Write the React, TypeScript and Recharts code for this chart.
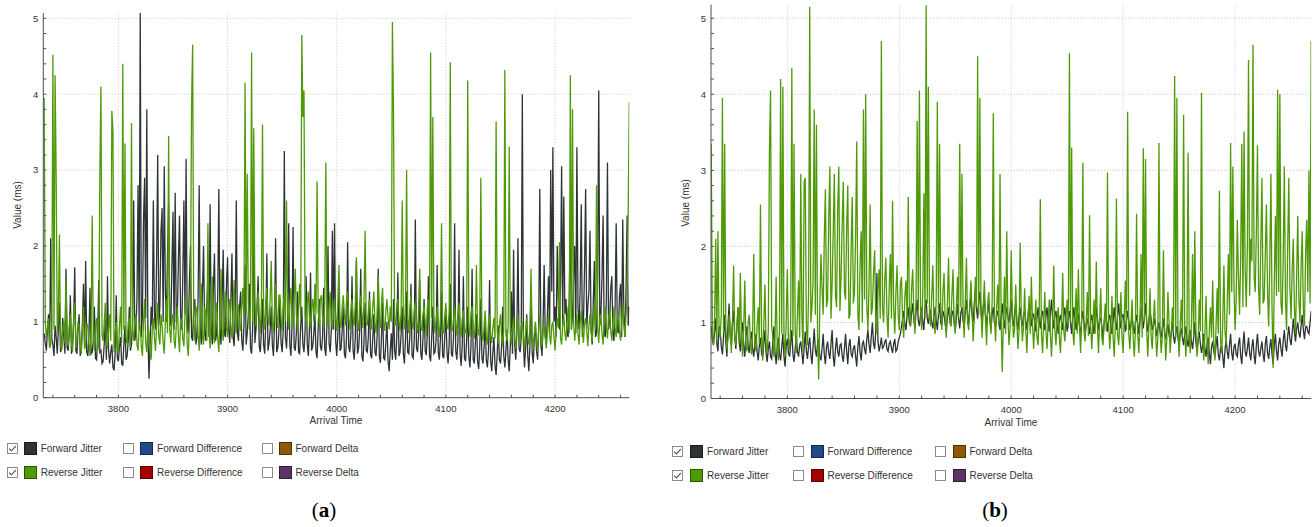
import React from "react";
import { LineChart, Line, XAxis, YAxis, ReferenceLine } from "recharts";

// jitter samples, one per time unit starting at 3732 (each row = 20 units)
const T0 = 3732;
const STEP = 1;

const xTicks = [
  3740, 3760, 3780, 3800, 3820, 3840, 3860, 3880, 3900, 3920, 3940, 3960, 3980, 4000,
  4020, 4040, 4060, 4080, 4100, 4120, 4140, 4160, 4180, 4200, 4220, 4240, 4260,
];
const xGrid = [3800, 3900, 4000, 4100, 4200];
const yTicks = [
  0, 0.2, 0.4, 0.6, 0.8, 1, 1.2, 1.4, 1.6, 1.8, 2, 2.2, 2.4, 2.6, 2.8, 3, 3.2, 3.4, 3.6,
  3.8, 4, 4.2, 4.4, 4.6, 4.8, 5,
];
const yGrid = [1, 2, 3, 4, 5];

// (a) forward jitter, ms
const fwdA = [
  0.85, 0.72, 0.62, 0.90, 1.10, 0.66, 2.10, 0.78, 0.70, 0.55, 0.95, 0.80, 0.58, 0.92, 1.25, 0.60, 0.66, 1.05, 0.80, 0.58,
  1.70, 0.66, 0.62, 0.85, 1.35, 0.58, 0.70, 1.00, 1.72, 0.62, 0.58, 0.88, 1.10, 0.55, 0.64, 0.95, 1.50, 0.70, 1.80, 0.60,
  0.55, 0.80, 1.45, 0.58, 0.60, 0.75, 1.20, 0.52, 0.50, 0.82, 1.55, 0.60, 0.62, 0.45, 0.48, 0.70, 1.05, 0.50, 1.60, 0.62,
  0.45, 0.60, 0.70, 0.40, 0.36, 0.58, 1.35, 0.52, 0.48, 0.68, 0.80, 0.45, 0.42, 0.70, 0.95, 0.50, 0.55, 0.75, 1.20, 0.62,
  0.70, 1.00, 2.60, 0.75, 0.85, 1.30, 2.80, 0.90, 5.07, 0.80, 1.10, 2.35, 2.90, 1.05, 3.80, 0.85, 0.25, 0.70, 1.20, 0.95,
  2.60, 1.10, 0.90, 1.80, 3.20, 0.95, 1.20, 2.20, 2.50, 1.00, 3.05, 1.40, 1.00, 1.90, 2.55, 1.05, 0.95, 1.70, 2.45, 0.90,
  2.70, 1.00, 1.10, 1.85, 2.40, 1.05, 0.90, 1.60, 2.60, 1.10, 3.15, 0.95, 0.85, 1.50, 2.00, 0.80, 0.75, 1.20, 1.30, 0.70,
  0.80, 1.30, 2.80, 0.90, 0.70, 1.40, 2.00, 0.85, 0.75, 1.20, 1.60, 0.80, 2.55, 0.95, 0.70, 1.45, 1.90, 0.75, 0.85, 1.35,
  2.75, 0.90, 0.70, 1.30, 1.95, 0.85, 0.80, 1.50, 1.85, 0.90, 0.72, 1.25, 1.90, 0.80, 0.68, 1.10, 2.60, 0.85, 0.75, 1.20,
  1.40, 0.75, 0.62, 0.95, 1.75, 0.70, 0.85, 1.10, 1.50, 0.65, 0.58, 0.92, 2.65, 0.72, 0.90, 1.20, 1.60, 0.68, 0.60, 0.88,
  1.30, 0.70, 0.58, 0.98, 1.90, 0.62, 0.72, 0.88, 1.20, 0.70, 0.55, 0.95, 2.10, 0.60, 0.66, 0.85, 1.30, 0.72, 0.60, 0.90,
  3.25, 0.80, 0.65, 1.00, 2.30, 0.70, 0.55, 0.92, 2.25, 0.66, 0.62, 0.85, 1.40, 0.60, 0.58, 0.95, 1.20, 0.70, 0.60, 0.88,
  1.60, 0.70, 0.55, 0.90, 1.65, 0.62, 0.68, 0.85, 1.10, 0.60, 0.52, 0.92, 1.30, 0.68, 0.62, 0.80, 1.45, 0.65, 0.55, 0.95,
  2.00, 0.72, 0.60, 0.88, 2.20, 0.90, 2.30, 0.75, 0.55, 0.82, 1.50, 0.62, 0.65, 0.90, 1.20, 0.58, 0.52, 0.80, 2.05, 0.66,
  0.60, 0.85, 1.60, 0.62, 0.50, 0.80, 1.80, 0.58, 0.65, 0.88, 1.70, 0.55, 0.48, 0.75, 1.25, 0.62, 0.60, 0.82, 1.40, 0.56,
  0.52, 0.78, 1.10, 0.60, 0.55, 0.82, 1.70, 0.55, 0.46, 0.80, 1.25, 0.52, 0.50, 0.72, 1.00, 0.48, 0.35, 0.62, 0.85, 0.50,
  1.30, 0.62, 0.50, 0.80, 1.65, 0.55, 0.60, 0.85, 1.20, 0.58, 0.45, 0.78, 1.40, 0.60, 0.58, 0.82, 1.50, 0.55, 0.52, 0.76,
  2.35, 0.66, 0.60, 0.82, 1.55, 0.58, 0.50, 0.78, 1.30, 0.62, 0.56, 0.85, 1.60, 0.55, 0.48, 0.80, 1.20, 0.58, 0.60, 0.75,
  1.75, 0.60, 0.50, 0.78, 1.40, 0.55, 0.52, 0.82, 1.10, 0.60, 0.45, 0.72, 1.50, 0.58, 0.54, 0.80, 2.30, 0.62, 0.50, 0.74,
  1.95, 0.58, 0.42, 0.70, 1.60, 0.52, 0.48, 0.75, 1.20, 0.55, 0.40, 0.68, 1.70, 0.50, 0.45, 0.72, 1.10, 0.48, 0.38, 0.65,
  1.30, 0.52, 0.45, 0.68, 1.00, 0.50, 0.40, 0.62, 1.55, 0.48, 0.35, 0.60, 0.80, 0.42, 0.30, 0.58, 0.95, 0.50, 0.45, 0.66,
  1.20, 0.55, 0.40, 0.62, 0.90, 0.50, 0.35, 0.68, 1.40, 0.58, 1.95, 0.70, 0.50, 0.85, 2.10, 0.65, 0.60, 0.80, 4.00, 0.72,
  0.40, 0.65, 1.10, 0.55, 0.35, 0.70, 1.45, 0.60, 0.45, 0.78, 0.95, 0.62, 0.50, 0.90, 2.75, 0.70, 0.55, 0.95, 1.75, 0.80,
  0.70, 1.10, 1.60, 0.85, 3.00, 1.40, 3.30, 1.00, 1.20, 0.80, 2.00, 1.25, 0.90, 1.50, 3.05, 0.95, 2.65, 1.10, 1.30, 0.85,
  0.80, 1.30, 2.40, 0.90, 1.10, 1.60, 2.00, 0.85, 3.30, 1.20, 0.90, 1.45, 2.55, 0.80, 1.00, 1.70, 2.75, 0.90, 1.20, 1.40,
  2.20, 0.90, 0.70, 1.25, 1.80, 0.80, 0.85, 1.50, 4.05, 0.95, 1.10, 1.60, 2.40, 0.85, 0.80, 1.30, 3.10, 0.90, 1.00, 1.45,
  1.60, 0.85, 0.75, 1.20, 2.30, 0.90, 0.85, 1.35, 1.50, 0.80, 2.35, 1.10, 0.80, 1.40, 2.40, 0.95, 1.20,
];

// (a) reverse jitter, ms
const revA = [
  3.95, 1.00, 0.80, 0.92, 1.05, 0.66, 0.70, 0.98, 4.52, 0.90, 4.25, 2.90, 0.85, 1.10, 2.15, 0.70, 0.62, 0.90, 1.00, 0.72,
  1.55, 0.82, 0.68, 0.95, 1.10, 0.72, 0.60, 1.05, 1.25, 0.66, 0.75, 1.00, 0.95, 0.70, 0.58, 0.92, 1.20, 0.64, 0.70, 0.98,
  0.95, 0.70, 0.55, 0.88, 2.40, 0.80, 0.62, 0.96, 1.05, 0.62, 0.70, 2.95, 4.10, 0.82, 0.75, 0.98, 1.25, 0.72, 0.65, 0.90,
  1.10, 0.75, 3.78, 3.50, 0.60, 0.85, 1.00, 0.68, 0.58, 0.95, 1.20, 0.72, 4.40, 0.90, 3.35, 0.80, 0.70, 0.98, 1.05, 0.66,
  3.62, 0.88, 0.75, 1.02, 1.10, 0.70, 0.62, 0.92, 0.95, 0.68, 0.55, 1.00, 1.30, 0.72, 0.60, 0.95, 0.85, 0.62, 0.50, 0.90,
  1.05, 0.78, 0.62, 0.98, 1.25, 0.80, 0.70, 1.10, 0.95, 0.72, 0.58, 1.00, 1.30, 0.85, 3.45, 0.90, 0.72, 1.05, 1.10, 0.75,
  0.65, 0.95, 1.20, 0.80, 0.60, 1.05, 1.00, 0.78, 0.68, 1.10, 1.35, 0.70, 0.55, 0.98, 1.15, 3.85, 4.65, 1.00, 0.75, 1.15,
  1.20, 0.85, 0.62, 1.05, 1.50, 0.80, 0.70, 1.20, 1.10, 0.75, 2.30, 0.90, 0.65, 1.10, 1.60, 0.82, 0.72, 1.15, 1.25, 0.78,
  0.60, 1.00, 1.70, 0.90, 0.75, 1.15, 1.40, 0.92, 0.80, 1.20, 1.30, 0.95, 0.78, 1.10, 1.55, 1.00, 0.85, 1.25, 1.20, 0.95,
  0.88, 1.20, 1.45, 1.05, 4.15, 1.10, 2.95, 1.25, 0.90, 1.15, 4.55, 1.00, 3.55, 1.30, 0.95, 1.20, 1.40, 1.05, 0.85, 1.25,
  3.60, 1.10, 0.90, 1.25, 1.45, 1.05, 0.95, 1.30, 1.80, 1.00, 0.85, 1.20, 1.50, 1.10, 0.92, 1.35, 1.35, 1.05, 0.88, 1.20,
  1.40, 1.00, 2.60, 1.15, 0.90, 1.25, 1.45, 1.05, 0.95, 1.30, 1.70, 1.10, 0.88, 1.20, 1.50, 1.05, 4.78, 3.70, 4.05, 1.10,
  0.95, 1.25, 1.40, 1.05, 0.90, 1.20, 1.30, 1.00, 1.50, 1.10, 2.85, 1.15, 0.95, 1.30, 1.35, 1.05, 0.90, 1.25, 3.10, 1.10,
  0.95, 1.20, 1.40, 1.00, 0.90, 1.15, 1.30, 1.05, 0.88, 1.25, 1.75, 1.00, 0.92, 1.20, 1.35, 1.10, 0.95, 1.30, 1.40, 1.05,
  0.90, 1.15, 1.30, 1.05, 0.95, 1.25, 1.85, 1.00, 0.88, 1.20, 1.35, 1.10, 0.92, 1.30, 2.20, 1.00, 0.95, 1.15, 1.30, 1.05,
  0.90, 1.20, 1.40, 1.00, 0.85, 1.10, 1.60, 1.05, 0.92, 1.25, 1.45, 1.00, 0.88, 1.15, 1.30, 1.05, 0.90, 1.20, 1.00, 4.95,
  3.75, 1.05, 0.95, 1.20, 1.30, 1.00, 0.88, 1.15, 2.60, 1.10, 0.90, 1.25, 3.00, 1.05, 0.85, 1.20, 1.35, 1.00, 0.90, 1.15,
  1.25, 1.00, 0.85, 1.15, 1.70, 0.95, 0.88, 1.10, 1.20, 1.00, 0.80, 1.20, 1.30, 0.95, 4.55, 1.05, 3.70, 1.10, 0.85, 1.00,
  1.20, 0.95, 0.80, 1.05, 2.30, 0.90, 0.85, 1.10, 1.25, 0.95, 0.90, 1.15, 4.42, 0.92, 0.88, 1.05, 1.20, 0.98, 0.82, 1.10,
  1.25, 0.92, 0.80, 1.05, 1.15, 0.90, 0.85, 1.00, 4.18, 0.95, 0.80, 1.10, 1.20, 0.88, 0.78, 1.02, 1.75, 0.90, 0.82, 1.05,
  2.90, 0.85, 0.75, 0.95, 1.15, 0.80, 0.70, 0.98, 1.10, 0.82, 0.72, 0.92, 1.05, 0.78, 3.64, 0.88, 0.70, 0.95, 1.10, 0.80,
  0.68, 0.90, 4.32, 0.82, 0.75, 0.95, 3.31, 0.85, 0.70, 0.92, 1.05, 0.78, 0.65, 0.90, 1.10, 0.80, 0.72, 0.95, 1.00, 0.82,
  0.62, 0.88, 1.05, 0.78, 0.70, 0.92, 1.70, 0.80, 0.65, 0.85, 1.00, 0.75, 0.60, 0.90, 1.10, 0.82, 0.68, 0.88, 0.95, 0.80,
  0.65, 0.90, 1.10, 0.82, 0.70, 0.95, 1.00, 0.80, 0.62, 0.88, 1.05, 0.92, 2.05, 0.78, 0.70, 0.95, 1.10, 0.85, 0.75, 0.98,
  1.20, 0.85, 4.25, 0.90, 3.80, 1.00, 0.75, 0.95, 1.10, 0.85, 0.70, 1.00, 1.15, 0.90, 0.72, 0.98, 1.05, 0.88, 0.68, 0.95,
  1.10, 0.88, 0.75, 1.00, 1.20, 0.90, 2.80, 0.95, 0.72, 1.05, 1.10, 0.85, 0.70, 1.00, 1.20, 0.92, 0.78, 1.05, 1.15, 0.88,
  0.75, 1.00, 1.20, 0.92, 0.80, 1.05, 1.10, 0.88, 0.75, 1.00, 1.25, 0.95, 0.80, 1.10, 1.30, 2.45, 3.90,
];

// (b) forward jitter, ms
const fwdB = [
  0.95, 0.78, 0.70, 0.88, 1.05, 0.72, 0.62, 0.95, 0.90, 0.68, 0.58, 0.82, 1.10, 0.75, 0.55, 0.98, 1.25, 0.80, 0.70, 1.00,
  1.15, 0.80, 0.65, 0.95, 1.20, 0.75, 0.62, 0.90, 1.00, 0.70, 0.55, 0.82, 0.95, 0.68, 0.60, 0.78, 0.88, 0.65, 0.55, 0.72,
  0.85, 0.62, 0.50, 0.70, 0.80, 0.58, 0.55, 0.72, 0.90, 0.60, 0.48, 0.66, 0.75, 0.55, 0.52, 0.74, 0.95, 0.60, 0.45, 0.68,
  0.80, 0.58, 0.50, 0.68, 0.85, 0.55, 0.42, 0.70, 0.78, 0.60, 0.55, 0.72, 0.90, 0.58, 0.48, 0.66, 0.82, 0.62, 0.55, 0.70,
  0.75, 0.60, 0.45, 0.66, 0.88, 0.62, 0.52, 0.70, 0.80, 0.58, 0.45, 0.68, 0.92, 0.64, 0.55, 0.72, 0.78, 0.56, 0.50, 0.65,
  0.85, 0.58, 0.45, 0.68, 0.75, 0.60, 0.52, 0.72, 0.90, 0.55, 0.42, 0.65, 0.80, 0.62, 0.55, 0.70, 0.72, 0.56, 0.48, 0.66,
  0.85, 0.62, 0.45, 0.70, 0.78, 0.58, 0.55, 0.66, 0.70, 0.55, 0.42, 0.68, 0.82, 0.60, 0.50, 0.72, 0.75, 0.65, 0.58, 0.78,
  0.90, 0.70, 0.60, 0.82, 1.00, 0.72, 0.65, 0.88, 1.65, 0.75, 0.62, 0.70, 0.80, 0.66, 0.68, 0.74, 0.78, 0.65, 0.62, 0.72,
  0.75, 0.66, 0.60, 0.72, 0.78, 0.62, 0.65, 0.74, 0.80, 0.85, 0.95, 1.05, 1.15, 0.98, 0.90, 1.10, 1.20, 1.00, 0.95, 1.12,
  1.25, 1.05, 0.92, 1.15, 1.30, 1.02, 0.95, 1.10, 1.20, 1.00, 0.90, 1.18, 1.30, 1.05, 0.98, 1.12, 1.15, 1.00, 0.92, 1.08,
  1.20, 1.02, 0.90, 1.10, 1.25, 1.00, 0.95, 1.15, 1.10, 0.98, 0.88, 1.08, 1.20, 1.04, 0.95, 1.12, 1.15, 1.00, 0.90, 1.06,
  1.25, 1.05, 0.92, 1.12, 1.20, 1.02, 0.95, 1.15, 1.30, 1.08, 0.98, 1.20, 1.35, 1.10, 1.00, 1.25, 1.45, 1.18, 1.05, 1.30,
  1.40, 1.15, 1.00, 1.22, 1.30, 1.10, 0.95, 1.15, 1.25, 1.05, 0.92, 1.12, 1.20, 1.00, 0.95, 1.10, 1.15, 1.02, 0.90, 1.08,
  1.25, 1.05, 0.92, 1.10, 1.20, 1.08, 1.00, 1.15, 1.30, 1.05, 0.95, 1.12, 1.25, 1.00, 0.90, 1.08, 1.20, 1.04, 0.95, 1.10,
  1.15, 1.02, 0.90, 1.08, 1.25, 1.05, 0.95, 1.12, 1.10, 1.00, 0.88, 1.06, 1.20, 1.04, 0.92, 1.10, 1.15, 1.00, 0.90, 1.08,
  1.20, 1.00, 0.88, 1.12, 1.30, 1.05, 0.92, 1.10, 1.15, 0.98, 0.85, 1.02, 1.10, 1.00, 0.90, 1.08, 1.20, 1.02, 0.88, 1.05,
  1.15, 1.00, 0.85, 1.05, 1.20, 1.02, 0.90, 1.08, 1.10, 0.95, 0.82, 1.04, 1.15, 1.00, 0.88, 0.98, 1.05, 0.96, 0.85, 1.02,
  1.10, 0.98, 0.85, 1.04, 1.20, 1.00, 0.90, 1.06, 1.05, 0.94, 0.80, 1.00, 1.15, 1.02, 0.88, 1.05, 1.10, 0.96, 0.85, 1.02,
  1.20, 1.02, 0.90, 1.08, 1.25, 1.04, 0.92, 1.10, 1.10, 1.00, 0.88, 1.04, 1.15, 1.02, 0.90, 0.98, 1.05, 0.95, 0.85, 1.00,
  1.10, 0.98, 0.85, 1.04, 1.20, 1.05, 0.92, 1.08, 1.25, 1.02, 0.88, 1.00, 1.15, 1.04, 0.90, 0.96, 1.05, 0.94, 0.82, 0.92,
  1.00, 0.88, 0.80, 0.92, 1.05, 0.86, 0.78, 0.90, 0.98, 0.84, 0.75, 0.88, 1.00, 0.82, 0.72, 0.86, 0.95, 0.80, 0.70, 0.84,
  0.92, 0.80, 0.70, 0.84, 0.95, 0.78, 0.68, 0.82, 0.90, 0.75, 0.65, 0.80, 1.00, 0.74, 0.62, 0.78, 0.88, 0.72, 0.60, 0.70,
  0.85, 0.66, 0.55, 0.72, 0.80, 0.60, 0.45, 0.68, 0.75, 0.62, 0.55, 0.70, 0.82, 0.58, 0.50, 0.66, 0.70, 0.55, 0.40, 0.64,
  0.78, 0.62, 0.52, 0.70, 0.85, 0.60, 0.50, 0.68, 0.72, 0.58, 0.55, 0.72, 0.80, 0.56, 0.45, 0.70, 0.88, 0.62, 0.55, 0.66,
  0.80, 0.60, 0.50, 0.68, 0.78, 0.56, 0.45, 0.70, 0.85, 0.62, 0.55, 0.66, 0.75, 0.58, 0.48, 0.72, 0.82, 0.60, 0.52, 0.68,
  0.78, 0.58, 0.45, 0.70, 0.85, 0.62, 0.50, 0.72, 0.80, 0.65, 0.55, 0.76, 0.90, 0.70, 0.62, 0.82, 0.95, 0.78, 0.70, 0.86,
  1.05, 0.88, 0.75, 0.92, 1.00, 0.86, 0.80, 0.96, 1.10, 0.90, 0.78, 0.94, 0.95, 0.88, 0.85, 1.00, 1.15,
];

// (b) reverse jitter, ms
const revB = [
  3.35, 0.85, 0.70, 1.05, 2.10, 0.75, 2.20, 0.90, 0.80, 1.10, 3.95, 0.85, 3.35, 0.95, 0.65, 0.78, 1.10, 0.90, 0.60, 1.05,
  1.75, 0.80, 0.70, 0.98, 1.20, 0.72, 1.65, 0.85, 0.55, 0.92, 1.55, 0.68, 0.62, 1.00, 1.10, 0.75, 0.58, 0.88, 1.90, 0.70,
  0.62, 0.95, 1.20, 0.72, 2.55, 0.85, 0.50, 1.00, 1.50, 0.70, 0.60, 0.90, 3.25, 4.05, 0.95, 0.80, 0.55, 0.80, 1.60, 0.65,
  0.50, 0.92, 4.20, 0.85, 4.10, 0.78, 0.55, 1.05, 1.70, 0.75, 0.65, 0.98, 4.35, 0.82, 3.35, 0.90, 0.60, 1.10, 1.55, 0.80,
  2.95, 1.10, 0.60, 2.85, 2.90, 0.95, 0.70, 1.40, 5.15, 1.00, 1.20, 1.55, 3.80, 1.10, 3.60, 0.85, 0.25, 1.20, 1.90, 1.45,
  1.10, 2.10, 2.75, 1.20, 1.30, 2.40, 3.05, 1.05, 1.50, 2.20, 2.95, 1.35, 1.20, 2.50, 3.05, 1.15, 1.60, 2.30, 2.85, 1.40,
  1.30, 2.25, 2.80, 1.05, 1.10, 2.00, 2.65, 1.25, 1.40, 2.15, 3.38, 1.10, 0.90, 1.80, 2.20, 1.00, 3.80, 1.30, 4.00, 1.20,
  0.90, 1.50, 2.55, 1.10, 1.20, 1.65, 1.95, 1.00, 0.85, 1.40, 1.70, 1.05, 4.70, 1.20, 1.00, 1.55, 1.85, 1.10, 0.80, 1.45,
  1.90, 1.05, 2.60, 1.20, 0.85, 1.40, 1.75, 1.10, 0.90, 1.50, 1.60, 1.00, 0.80, 1.35, 1.55, 1.05, 2.65, 1.20, 0.95, 1.45,
  1.70, 1.10, 0.85, 1.30, 3.65, 1.15, 4.05, 1.20, 0.90, 1.40, 2.70, 1.05, 5.17, 1.25, 4.10, 1.10, 0.95, 1.35, 1.75, 1.00,
  0.85, 1.30, 3.90, 1.10, 3.35, 1.20, 0.90, 1.40, 1.65, 1.05, 0.80, 1.25, 1.85, 1.10, 0.95, 1.35, 1.70, 1.00, 0.85, 1.20,
  1.60, 1.05, 3.35, 1.20, 2.95, 1.10, 0.80, 1.30, 1.85, 1.00, 0.90, 1.25, 1.55, 1.15, 0.75, 1.05, 1.60, 1.20, 4.50, 1.10,
  3.95, 1.15, 0.80, 1.20, 1.55, 1.05, 0.70, 1.25, 1.40, 1.00, 0.85, 1.30, 3.75, 1.10, 0.75, 1.20, 1.50, 0.95, 2.95, 1.05,
  0.35, 1.00, 1.60, 0.85, 2.20, 1.10, 0.70, 0.95, 1.95, 1.15, 0.80, 0.90, 1.50, 1.05, 0.65, 0.88, 2.05, 1.10, 0.75, 0.95,
  1.45, 0.90, 0.60, 1.05, 1.35, 0.85, 1.60, 1.00, 0.65, 0.95, 1.30, 0.80, 0.70, 1.10, 2.62, 0.85, 0.60, 1.00, 1.40, 0.88,
  0.65, 1.00, 1.30, 0.85, 0.55, 0.95, 1.75, 0.90, 0.70, 1.05, 1.20, 0.80, 0.60, 1.00, 1.65, 0.88, 0.75, 1.10, 1.30, 0.92,
  4.54, 1.00, 3.30, 0.90, 0.70, 1.05, 1.45, 0.85, 1.70, 0.95, 0.60, 1.10, 3.10, 0.88, 0.75, 1.00, 1.40, 0.82, 2.41, 0.95,
  0.65, 1.00, 1.30, 0.85, 1.80, 0.95, 0.60, 1.05, 1.45, 0.80, 0.70, 0.98, 1.25, 0.88, 2.97, 1.00, 0.65, 0.90, 1.35, 0.82,
  0.55, 0.95, 2.63, 0.85, 0.70, 1.00, 1.40, 0.80, 0.60, 1.05, 1.55, 0.90, 3.77, 0.85, 0.65, 0.98, 1.30, 0.78, 0.55, 0.92,
  2.43, 0.85, 0.60, 0.98, 1.90, 0.80, 3.29, 1.00, 3.15, 0.90, 0.55, 0.95, 1.45, 0.82, 0.65, 1.02, 1.30, 0.88, 0.55, 0.80,
  3.36, 0.90, 0.60, 0.82, 1.95, 0.95, 0.50, 0.78, 1.40, 1.00, 0.60, 0.85, 1.20, 0.92, 4.24, 0.80, 3.95, 0.88, 0.55, 0.95,
  1.30, 0.80, 3.73, 0.92, 0.55, 0.85, 3.23, 0.78, 0.60, 0.98, 1.90, 0.82, 2.20, 0.90, 0.55, 0.75, 1.30, 0.88, 4.02, 0.85,
  0.50, 0.82, 1.35, 0.75, 0.45, 0.90, 1.20, 0.80, 1.55, 0.72, 0.50, 0.95, 1.45, 0.85, 2.73, 0.78, 0.60, 1.00, 1.75, 0.88,
  0.70, 1.25, 1.90, 1.10, 3.36, 1.40, 3.05, 1.50, 0.90, 1.30, 2.35, 1.60, 1.10, 1.85, 3.35, 1.20, 3.51, 1.70, 1.20, 2.00,
  4.45, 1.35, 2.10, 1.80, 4.65, 1.60, 1.40, 2.20, 3.33, 1.45, 1.10, 2.05, 2.90, 1.25, 1.30, 1.90, 2.55, 1.40, 0.95, 1.75,
  2.95, 1.20, 0.40, 1.50, 2.40, 1.35, 4.06, 1.40, 4.00, 1.25, 1.10, 1.85, 3.05, 1.30, 0.90, 2.00, 2.90, 1.45, 1.05, 1.70,
  2.10, 1.20, 0.85, 1.60, 2.40, 1.30, 1.00, 1.75, 2.20, 1.15, 0.95, 1.90, 2.35, 1.40, 3.00, 1.25, 4.70,
];

const FWD_COLOR = "#2e3436";
const REV_COLOR = "#4e9a06";
const FONT = "'Liberation Sans', Arial, sans-serif";

const legendRows = [
  [
    { name: "Forward Jitter", color: FWD_COLOR, checked: true },
    { name: "Forward Difference", color: "#204a87", checked: false },
    { name: "Forward Delta", color: "#8f5902", checked: false },
  ],
  [
    { name: "Reverse Jitter", color: REV_COLOR, checked: true },
    { name: "Reverse Difference", color: "#a40000", checked: false },
    { name: "Reverse Delta", color: "#5c3566", checked: false },
  ],
];

const XTick = ({ x, y, payload }: any) => {
  const major = payload.value % 100 === 0;
  return (
    <g>
      <line x1={x} x2={x} y1={y} y2={y - 3} stroke="#555" />
      {major && (
        <text x={x} y={y + 14} textAnchor="middle" fontSize={9.5} fill="#333" fontFamily={FONT}>
          {payload.value}
        </text>
      )}
    </g>
  );
};

const YTick = ({ x, y, payload }: any) => {
  const major = Number.isInteger(payload.value);
  return (
    <g>
      <line x1={x} x2={x + 3} y1={y} y2={y} stroke="#555" />
      {major && (
        <text x={x - 5} y={y} dy="0.35em" textAnchor="end" fontSize={9.5} fill="#333" fontFamily={FONT}>
          {payload.value}
        </text>
      )}
    </g>
  );
};

const CheckBox = ({ checked }: { checked: boolean }) => (
  <svg width={11} height={11} style={{ display: "block" }}>
    <rect x={0.5} y={0.5} width={10} height={10} fill="#fff" stroke="#8a8a8a" />
    {checked && <path d="M2.2 5.6 L4.4 7.8 L8.8 3.2" fill="none" stroke="#444" strokeWidth={1.1} />}
  </svg>
);

type LegendProps = { cols: number[]; rowsY: number[]; gapBox: number };

const LegendBlock = ({ cols, rowsY, gapBox }: LegendProps) => (
  <>
    {legendRows.map((row, r) =>
      row.map((item, c) => (
        <div
          key={item.name}
          style={{
            position: "absolute",
            left: cols[c],
            top: rowsY[r] - 6.5,
            height: 13,
            display: "flex",
            alignItems: "center",
            fontFamily: FONT,
            fontSize: 10,
            color: "#333",
            whiteSpace: "nowrap",
          }}
        >
          <CheckBox checked={item.checked} />
          <div
            style={{
              width: 13,
              height: 13,
              boxSizing: "border-box",
              marginLeft: gapBox,
              marginRight: 4,
              background: item.color,
              border: "1px solid rgba(0,0,0,0.45)",
            }}
          />
          <span>{item.name}</span>
        </div>
      ))
    )}
  </>
);

type PanelProps = {
  left: number;
  width: number;
  top: number;
  right: number;
  axisW: number;
  axisH: number;
  xDomain: [number, number];
  yMax: number;
  fwd: number[];
  rev: number[];
};

const Panel = ({ left, width, top, right, axisW, axisH, xDomain, yMax, fwd, rev }: PanelProps) => {
  const rows = fwd.map((v, i) => ({ t: T0 + i * STEP, fwd: v, rev: rev[i] }));
  return (
    <div style={{ position: "absolute", left, top: 0 }}>
      <LineChart width={width} height={430} data={rows} margin={{ top, right, bottom: 0, left: 0 }}>
        <XAxis
          dataKey="t"
          type="number"
          domain={xDomain}
          allowDataOverflow
          ticks={xTicks}
          interval={0}
          tickSize={0}
          tickMargin={0}
          tickLine={false}
          height={axisH}
          tick={XTick}
          axisLine={{ stroke: "#4d4d4d" }}
        />
        <YAxis
          type="number"
          domain={[0, yMax]}
          allowDataOverflow
          ticks={yTicks}
          interval={0}
          tickSize={0}
          tickMargin={0}
          tickLine={false}
          width={axisW}
          tick={YTick}
          axisLine={{ stroke: "#4d4d4d" }}
        />
        {yGrid.map((v) => (
          <ReferenceLine key={"gy" + v} y={v} stroke="#c8c8c8" strokeDasharray="1 2" />
        ))}
        {xGrid.map((v) => (
          <ReferenceLine key={"gx" + v} x={v} stroke="#c8c8c8" strokeDasharray="1 2" />
        ))}
        <Line type="linear" dataKey="fwd" stroke={FWD_COLOR} strokeWidth={1.3} dot={false} isAnimationActive={false} />
        <Line type="linear" dataKey="rev" stroke={REV_COLOR} strokeWidth={1.3} dot={false} isAnimationActive={false} />
      </LineChart>
    </div>
  );
};

const axisTitle: React.CSSProperties = {
  position: "absolute",
  fontFamily: FONT,
  fontSize: 10,
  color: "#333",
  whiteSpace: "nowrap",
  lineHeight: "12px",
};

const Caption = ({ x, letter }: { x: number; letter: string }) => (
  <div
    style={{
      position: "absolute",
      left: x - 30,
      width: 60,
      top: 500,
      textAlign: "center",
      fontFamily: "'Liberation Serif', 'Times New Roman', serif",
      fontSize: 21,
      lineHeight: "21px",
      color: "#000",
    }}
  >
    (<b>{letter}</b>)
  </div>
);

export default function App() {
  return (
    <div style={{ position: "absolute", left: 0, top: 0, width: 1316, height: 527, background: "#fff", overflow: "hidden" }}>
      <Panel
        left={0}
        width={640}
        top={13}
        right={10.7}
        axisW={43.3}
        axisH={32.3}
        xDomain={[3731.2, 4268]}
        yMax={5.07}
        fwd={fwdA}
        rev={revA}
      />
      <Panel
        left={660}
        width={656}
        top={4.5}
        right={4.8}
        axisW={51}
        axisH={31.5}
        xDomain={[3731.8, 4268]}
        yMax={5.18}
        fwd={fwdB}
        rev={revB}
      />

      <div style={{ ...axisTitle, left: 336, top: 415, transform: "translateX(-50%)" }}>Arrival Time</div>
      <div style={{ ...axisTitle, left: 18, top: 205, transform: "translate(-50%, -50%) rotate(-90deg)" }}>Value (ms)</div>
      <div style={{ ...axisTitle, left: 1011, top: 417, transform: "translateX(-50%)" }}>Arrival Time</div>
      <div style={{ ...axisTitle, left: 686, top: 203, transform: "translate(-50%, -50%) rotate(-90deg)" }}>Value (ms)</div>

      <LegendBlock cols={[6.7, 123.1, 261.5]} rowsY={[448.5, 472.5]} gapBox={6} />
      <LegendBlock cols={[672.1, 792.5, 934.5]} rowsY={[451, 475]} gapBox={7} />

      <Caption x={324} letter="a" />
      <Caption x={995} letter="b" />
    </div>
  );
}
